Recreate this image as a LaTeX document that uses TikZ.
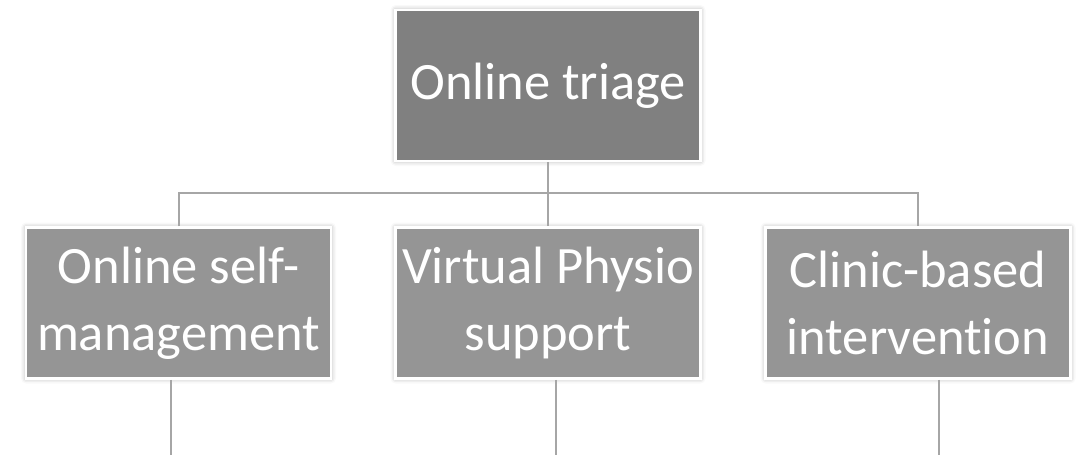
\documentclass[tikz,border=0pt]{standalone}
\usepackage{fontspec}
\setmainfont{Carlito}[Ligatures={NoCommon}]
\usetikzlibrary{shadows.blur}
\definecolor{topgray}{HTML}{808080}
\definecolor{subgray}{HTML}{959595}
\definecolor{linegray}{HTML}{A6A6A6}
\tikzset{
	box/.style = {rectangle, draw = white, line width = 2.5pt, text = white,
		minimum width = 305pt, minimum height = 151pt, align = center,
		font = \fontsize{52.5}{67}\selectfont, inner sep = 0pt,
		blur shadow = {shadow xshift = 0pt, shadow yshift = 0pt,
			shadow blur radius = 5pt, shadow opacity = 35}},
	conn/.style = {draw = linegray, line width = 2pt}
}
\begin{document}
\begin{tikzpicture}[x=1pt, y=-1pt]
	\useasboundingbox (0,0) rectangle (1081,455);
	\coordinate (bus)  at (548, 193);
	\coordinate (Aend) at (171, 455);
	\coordinate (Bend) at (556, 455);
	\coordinate (Cend) at (939, 455);
	\node (T) at (548, 85.5)	[box, fill = topgray]	{Online triage};
	\node (A) at (178.5, 303)	[box, fill = subgray]	{Online self-\\management};
	\node (B) at (548, 303)		[box, fill = subgray]	{Virtual Physio\\support};
	\node (C) at (918, 303)		[box, fill = subgray]	{Clinic-based\\intervention};
	\draw [conn] (T.south) -- (B.north);
	\draw [conn] (A.north) |- (bus) -| (C.north);
	\draw [conn] (A.south -| Aend) -- (Aend);
	\draw [conn] (B.south -| Bend) -- (Bend);
	\draw [conn] (C.south -| Cend) -- (Cend);
\end{tikzpicture}
\end{document}
